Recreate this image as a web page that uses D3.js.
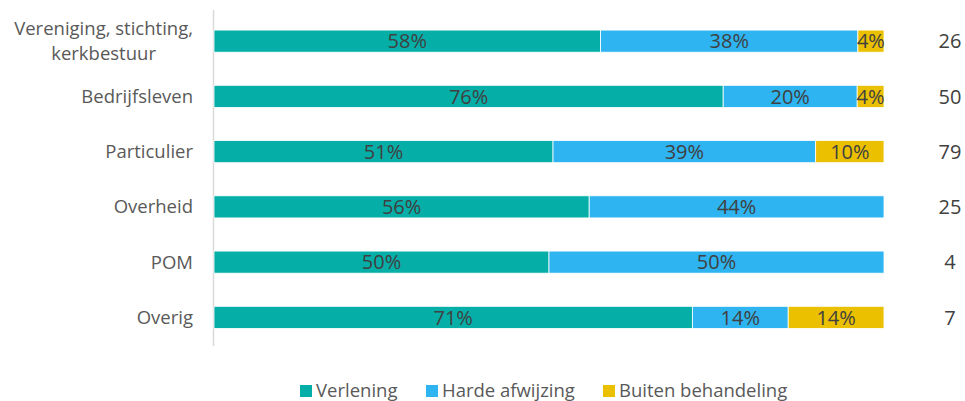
<!DOCTYPE html>
<html><head><meta charset="utf-8">
<script src="https://cdn.jsdelivr.net/npm/d3@7"></script>
<style>body{margin:0;background:#fff}text{font-family:"Open Sans",sans-serif}</style>
</head><body><svg id="c" width="965" height="401"></svg>
<script>
const categories = [["Vereniging, stichting,","kerkbestuur"],["Bedrijfsleven"],["Particulier"],["Overheid"],["POM"],["Overig"]];
const verlening = [57.7, 76, 50.6, 56, 50, 71.4];
const hardeAfwijzing = [38.4, 20, 39.2, 44, 50, 14.3];
const buitenBehandeling = [3.9, 4, 10.2, 0, 0, 14.3];
const counts = [26, 50, 79, 25, 4, 7];
const seriesNames = ["Verlening","Harde afwijzing","Buiten behandeling"];
const colors = ["#05AFA8","#2EB4F0","#EBC000"];

const svg = d3.select("#c");
const x = d3.scaleLinear().domain([0,100]).range([214,884]);
const y = d3.scaleBand().domain(d3.range(categories.length)).range([13.5,345]).paddingInner(0.6).paddingOuter(0.3);
const series = [verlening, hardeAfwijzing, buitenBehandeling];

svg.append("line").attr("x1",213.5).attr("x2",213.5).attr("y1",10).attr("y2",346).attr("stroke","#d9d9d9").attr("stroke-width",1.5);

categories.forEach((cat,i)=>{
  let x0 = 0;
  series.forEach((s,k)=>{
    const v = s[i];
    if (v>0){
      svg.append("rect").attr("x",x(x0)).attr("y",y(i)).attr("width",x(x0+v)-x(x0)).attr("height",y.bandwidth())
        .attr("fill",colors[k]).attr("stroke","#fff").attr("stroke-width",0.8);
      svg.append("text").attr("x",(x(x0)+x(x0+v))/2).attr("y",y(i)+y.bandwidth()/2).attr("dy","0.36em")
        .attr("text-anchor","middle").attr("font-size",20).attr("fill","#404040").text(Math.round(v)+"%");
    }
    x0 += v;
  });
  const cy = y(i)+y.bandwidth()/2;
  const t = svg.append("text").attr("text-anchor","middle").attr("font-size",18.5).attr("fill","#595959");
  const n = cat.length;
  const spans = cat.map((line,j)=>
    t.append("tspan").attr("y",cy+(j-(n-1)/2)*25).attr("dy","0.35em").text(line));
  const maxW = d3.max(spans, s => s.node().getComputedTextLength());
  spans.forEach(s => s.attr("x", 193 - maxW/2));
  svg.append("text").attr("x",950).attr("y",cy).attr("dy","0.36em").attr("text-anchor","middle")
    .attr("font-size",20).attr("fill","#404040").text(counts[i]);
});

const legendX = [300, 426, 603];
seriesNames.forEach((name,k)=>{
  svg.append("rect").attr("x",legendX[k]).attr("y",385).attr("width",12).attr("height",12).attr("fill",colors[k]);
  svg.append("text").attr("x",legendX[k]+16).attr("y",397).attr("font-size",18.5).attr("fill","#595959").text(name);
});
</script></body></html>
